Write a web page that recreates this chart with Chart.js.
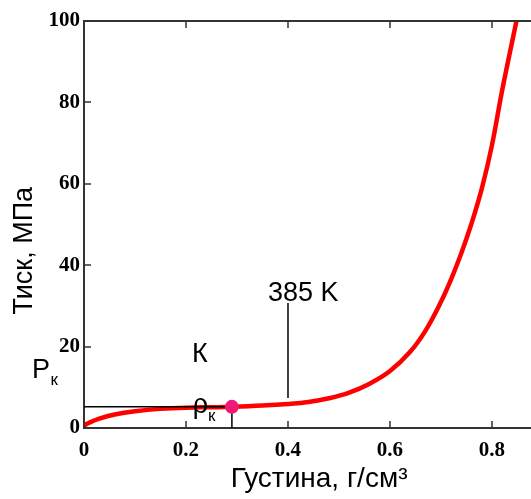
<!DOCTYPE html>
<html><head><meta charset="utf-8">
<script src="https://cdn.jsdelivr.net/npm/chart.js@4.4.1/dist/chart.umd.min.js"></script>
<style>html,body{margin:0;padding:0;background:#fff;}#wrap{width:531px;height:499px;}</style>
</head><body><div id="wrap"><canvas id="c" width="531" height="499"></canvas></div>
<script>
// ---- data ----
const density  = [0, 0.01, 0.03, 0.06, 0.10, 0.15, 0.20, 0.25, 0.29, 0.35, 0.40, 0.44, 0.48, 0.52, 0.56, 0.60, 0.64, 0.67, 0.70, 0.72, 0.74, 0.76, 0.78, 0.80, 0.82, 0.848];
const pressure = [0.6, 1.3, 2.3, 3.3, 4.1, 4.7, 5.0, 5.1, 5.2, 5.5, 5.9, 6.4, 7.3, 8.7, 10.9, 14.0, 18.8, 24.0, 31.0, 36.6, 43.0, 50.3, 58.8, 69.5, 83.0, 100];
const xTickValues = [0, 0.2, 0.4, 0.6, 0.8];
const yTickValues = [0, 20, 40, 60, 80, 100];
const criticalDensity = 0.29;
const criticalPressure = 5.2;
const isothermMarkX = [0.4, 0.4];
const isothermMarkY = [7.4, 30.7];
const isothermLabel = '385 K';
const pointLabel = 'К';
const xTitle = 'Густина, г/см³';
const yTitle = 'Тиск, МПа';

const curvePts = density.map((d, i) => ({x: d, y: pressure[i]}));
const critPts = [{x: 0, y: criticalPressure}, {x: criticalDensity, y: criticalPressure}, {x: criticalDensity, y: 0}];
const isoPts = isothermMarkX.map((d, i) => ({x: d, y: isothermMarkY[i]}));

const AXIS = '#333333';
const SANS = '"Liberation Sans", Arial, sans-serif';
const SERIF = '"Liberation Serif", "Times New Roman", serif';

const framePlugin = {
  id: 'frame',
  afterDraw(chart) {
    const ctx = chart.ctx;
    const x = chart.scales.x, y = chart.scales.y;
    const L = x.getPixelForValue(x.min), R = x.getPixelForValue(x.max);
    const T = y.getPixelForValue(y.max), B = y.getPixelForValue(y.min);
    ctx.save();
    ctx.setLineDash([]);
    ctx.globalAlpha = 1;
    ctx.fillStyle = AXIS;
    // top frame line
    ctx.fillRect(L - 1, T - 1, R - L + 1, 2);
    // inward ticks
    xTickValues.forEach(v => {
      const px = Math.round(x.getPixelForValue(v));
      ctx.fillRect(px - 0.75, B - 7, 1.5, 7);
      ctx.fillRect(px - 0.75, T, 1.5, 7);
    });
    yTickValues.forEach(v => {
      const py = Math.round(y.getPixelForValue(v));
      ctx.fillRect(L, py - 0.75, 7, 1.5);
    });

    // annotations
    ctx.fillStyle = '#000';
    ctx.textBaseline = 'alphabetic';
    ctx.font = '27px ' + SANS;
    ctx.textAlign = 'center';
    ctx.fillText(isothermLabel, x.getPixelForValue(0.43), y.getPixelForValue(31.3));
    ctx.textAlign = 'left';
    ctx.fillText(pointLabel, x.getPixelForValue(0.212), y.getPixelForValue(16.2));
    // P_k
    let px = x.getPixelForValue(-0.102), py = y.getPixelForValue(12.3);
    ctx.fillText('P', px, py);
    let w = ctx.measureText('P').width;
    ctx.font = '17px ' + SANS;
    ctx.fillText('к', px + w + 0.5, py + 7);
    // rho_k
    ctx.font = '27px ' + SANS;
    px = x.getPixelForValue(0.213); py = y.getPixelForValue(3.8);
    ctx.fillText('ρ', px, py);
    w = ctx.measureText('ρ').width;
    ctx.font = '17px ' + SANS;
    ctx.fillText('к', px + w, py + 8);
    ctx.restore();
  }
};

new Chart(document.getElementById('c'), {
  type: 'line',
  data: {
    datasets: [
      {data: [{x: criticalDensity, y: criticalPressure}], showLine: false, pointRadius: 7, pointBackgroundColor: '#ee1a78', pointBorderWidth: 0, order: 0},
      {data: critPts, borderColor: '#000', borderWidth: 1.5, pointRadius: 0, tension: 0, order: 1},
      {data: isoPts, borderColor: '#000', borderWidth: 1.5, pointRadius: 0, tension: 0, order: 1},
      {data: curvePts, borderColor: '#ff0000', borderWidth: 4.5, pointRadius: 0, tension: 0.4, order: 2}
    ]
  },
  options: {
    responsive: false,
    animation: false,
    layout: {autoPadding: false, padding: {top: 21, right: 0, left: 0, bottom: 0}},
    plugins: {legend: {display: false}, tooltip: {enabled: false}},
    scales: {
      x: {
        type: 'linear', min: 0, max: 0.8765,
        afterBuildTicks: s => { s.ticks = xTickValues.map(v => ({value: v})); },
        afterFit: s => { s.height = 71; s.paddingRight = 0; s.paddingLeft = 0; },
        grid: {display: true, drawOnChartArea: false, drawTicks: false},
        border: {display: true, color: AXIS, width: 2},
        ticks: {padding: 10, color: '#000', font: {family: SERIF, weight: 'bold', size: 21},
                callback: v => String(v)},
        title: {display: true, text: '\u00a0\u00a0\u00a0' + xTitle, color: '#000', font: {family: SANS, size: 28}, padding: {top: 0, bottom: 3}}
      },
      y: {
        type: 'linear', min: 0, max: 100,
        afterBuildTicks: s => { s.ticks = yTickValues.map(v => ({value: v})); },
        afterFit: s => { s.width = 84; s.paddingTop = 0; s.paddingBottom = 0; },
        grid: {display: true, drawOnChartArea: false, drawTicks: false},
        border: {display: true, color: AXIS, width: 2},
        ticks: {padding: 4, color: '#000', font: {family: SERIF, weight: 'bold', size: 21}},
        title: {display: true, text: yTitle + '\u00a0\u00a0\u00a0\u00a0\u00a0\u00a0\u00a0', color: '#000', font: {family: SANS, size: 27}, padding: {top: 8, bottom: 0}}
      }
    }
  },
  plugins: [framePlugin]
});
</script>
</body></html>
